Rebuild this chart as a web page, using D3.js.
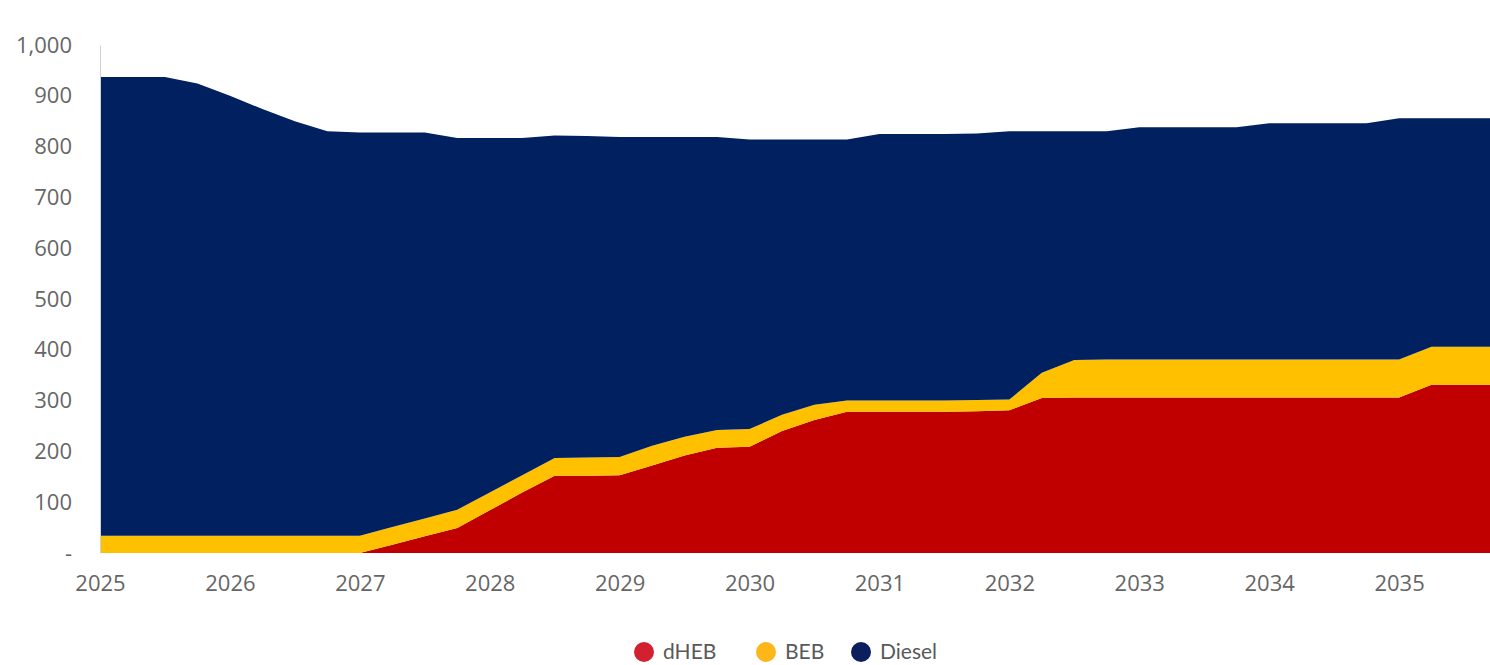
<!DOCTYPE html>
<html>
<head>
<meta charset="utf-8">
<script src="https://cdn.jsdelivr.net/npm/d3@7"></script>
<style>
    body { margin: 0; background: #fff; }
    .tick text { font-family: "Open Sans", sans-serif; fill: #666; }
    .legend-text { font-family: Lato, sans-serif; fill: #595959; }
</style>
</head>
<body>
<div id="chart"></div>
<script>
// Quarterly points, 2025 Q1 .. 2035 Q4
const quarters = d3.range(44).map(i => 2025 + i / 4);

const dHEB = [0, 0, 0, 0, 0, 0, 0, 0,
    0, 16, 33, 49, 84, 119, 152, 152,
    153, 172, 192, 207, 209, 240, 262, 278,
    278, 278, 278, 279, 281, 305, 306, 306,
    306, 306, 306, 306, 306, 306, 306, 306,
    306, 331, 331, 331];

const BEB = [34, 34, 34, 34, 34, 34, 34, 34,
    34, 35, 35, 36, 35, 34, 35, 36,
    36, 39, 37, 35, 35, 32, 30, 22,
    22, 22, 22, 22, 21, 50, 74, 75,
    75, 75, 75, 75, 75, 75, 75, 75,
    75, 75, 75, 75];

const Diesel = [903, 903, 903, 890, 866, 840, 816, 796,
    794, 777, 760, 732, 698, 664, 635, 633,
    630, 608, 590, 577, 570, 542, 522, 514,
    525, 525, 525, 525, 528, 475, 450, 449,
    457, 457, 457, 457, 465, 465, 465, 465,
    475, 450, 450, 450];

const yearTicks = d3.range(2025, 2036);
const yTicks = d3.range(0, 1001, 100);

const seriesKeys = ["dHEB", "BEB", "Diesel"];
const areaColors = ["#c00000", "#ffc000", "#002060"];
const legendColors = ["#d2202f", "#fdb71a", "#0b1f5e"];

const WIDTH = 1490;
const HEIGHT = 665;
const PLOT_LEFT = 100;
const PLOT_RIGHT = 1490;
const PLOT_TOP = 45;
const PLOT_BOTTOM = 553;

const rows = quarters.map((q, i) => ({ q: q, dHEB: dHEB[i], BEB: BEB[i], Diesel: Diesel[i] }));

const svg = d3.select("#chart")
    .append("svg")
    .attr("width", WIDTH)
    .attr("height", HEIGHT);

let xScale = d3.scaleLinear()
    .domain([2025, 2035.7])
    .range([PLOT_LEFT, PLOT_RIGHT]);

let yScale = d3.scaleLinear()
    .domain([0, 1000])
    .range([PLOT_BOTTOM, PLOT_TOP]);

let color = d3.scaleOrdinal().domain(seriesKeys).range(areaColors);

// Stack the three fleets
let stacked = d3.stack().keys(seriesKeys)(rows);

let area = d3.area()
    .x(d => xScale(d.data.q))
    .y0(d => yScale(d[0]))
    .y1(d => yScale(d[1]));

svg.append("g")
    .selectAll("path")
    .data(stacked)
    .enter().append("path")
    .attr("d", area)
    .attr("fill", d => color(d.key));

// Y axis
const yAxis = svg.append("g")
    .attr("transform", `translate(${PLOT_LEFT},0)`)
    .call(d3.axisLeft(yScale)
        .tickValues(yTicks)
        .tickFormat(d => d === 0 ? "-" : d3.format(",")(d))
        .tickSize(0)
        .tickPadding(28));
yAxis.select(".domain").attr("stroke", "#d0d0d0");
yAxis.selectAll("text").style("font-size", "22px");

// X axis
const xAxis = svg.append("g")
    .attr("transform", `translate(0,${PLOT_BOTTOM})`)
    .call(d3.axisBottom(xScale)
        .tickValues(yearTicks)
        .tickFormat(d3.format("d"))
        .tickSize(0)
        .tickPadding(22));
xAxis.select(".domain").remove();
xAxis.selectAll("text").style("font-size", "22px");

// Legend
const legendItems = [
    { name: "dHEB", cx: 644, tx: 663 },
    { name: "BEB", cx: 766, tx: 785 },
    { name: "Diesel", cx: 861, tx: 880 }
];

const legend = svg.append("g");
legend.selectAll("circle")
    .data(legendItems)
    .enter().append("circle")
    .attr("cx", d => d.cx)
    .attr("cy", 652)
    .attr("r", 10)
    .attr("fill", (d, i) => legendColors[i]);

legend.selectAll("text")
    .data(legendItems)
    .enter().append("text")
    .classed("legend-text", true)
    .attr("x", d => d.tx)
    .attr("y", 652)
    .attr("dy", "0.35em")
    .style("font-size", "21px")
    .text(d => d.name);
</script>
</body>
</html>
